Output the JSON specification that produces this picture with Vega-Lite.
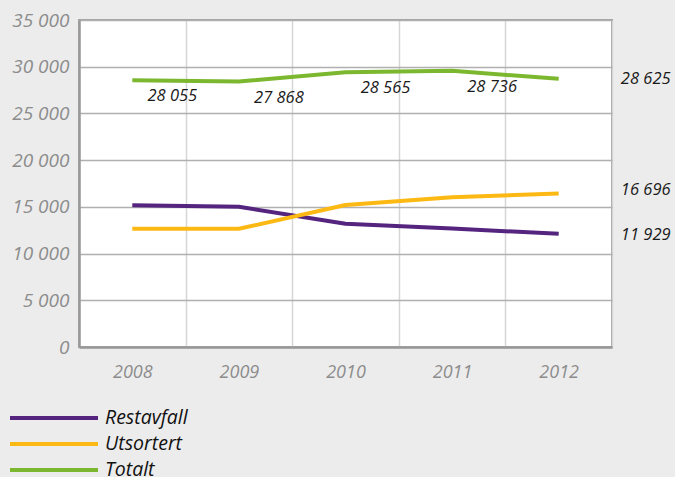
{
  "$schema": "https://vega.github.io/schema/vega-lite/v6.json",
  "width": 533,
  "height": 327,
  "autosize": {"type": "none"},
  "padding": {"left": 79, "top": 20, "right": 63, "bottom": 130},
  "background": "#ececec",
  "config": {
    "font": "Open Sans",
    "view": {"fill": "white", "stroke": "#a3a3a3", "strokeWidth": 2},
    "locale": {
      "number": {"decimal": ",", "thousands": " ", "grouping": [3], "currency": ["", " kr"]}
    }
  },
  "data": {
    "values": [
      {"year": "2008", "series": "Restavfall", "value": 15177, "label": null},
      {"year": "2009", "series": "Restavfall", "value": 15006, "label": null},
      {"year": "2010", "series": "Restavfall", "value": 13186, "label": null},
      {"year": "2011", "series": "Restavfall", "value": 12683, "label": null},
      {"year": "2012", "series": "Restavfall", "value": 12116, "label": 11929},
      {"year": "2008", "series": "Utsortert", "value": 12651, "label": null},
      {"year": "2009", "series": "Utsortert", "value": 12651, "label": null},
      {"year": "2010", "series": "Utsortert", "value": 15198, "label": null},
      {"year": "2011", "series": "Utsortert", "value": 16033, "label": null},
      {"year": "2012", "series": "Utsortert", "value": 16429, "label": 16696},
      {"year": "2008", "series": "Totalt", "value": 28556, "label": 28055},
      {"year": "2009", "series": "Totalt", "value": 28417, "label": 27868},
      {"year": "2010", "series": "Totalt", "value": 29412, "label": 28565},
      {"year": "2011", "series": "Totalt", "value": 29562, "label": 28736},
      {"year": "2012", "series": "Totalt", "value": 28706, "label": 28625}
    ]
  },
  "encoding": {
    "x": {
      "field": "year",
      "type": "ordinal",
      "bandPosition": 0.5,
      "scale": {"type": "band", "paddingInner": 0, "paddingOuter": 0},
      "axis": {
        "title": null,
        "labelAngle": 0,
        "grid": true,
        "tickBand": "extent",
        "gridColor": "#d6d6d6",
        "gridWidth": 1.5,
        "ticks": false,
        "domainColor": "#999999",
        "domainWidth": 2.5,
        "labelFont": "Open Sans",
        "labelFontStyle": "italic",
        "labelFontSize": 18,
        "labelColor": "#8c8c8c",
        "labelPadding": 16
      }
    }
  },
  "layer": [
    {
      "mark": {"type": "line", "strokeWidth": 4, "strokeJoin": "round"},
      "encoding": {
        "y": {
          "field": "value",
          "type": "quantitative",
          "scale": {"domain": [0, 35000], "nice": false},
          "axis": {
            "title": null,
            "values": [0, 5000, 10000, 15000, 20000, 25000, 30000, 35000],
            "format": ",.0f",
            "grid": true,
            "gridColor": "#b0b0b0",
            "gridWidth": 1.5,
            "ticks": false,
            "domainColor": "#999999",
            "domainWidth": 2.5,
            "labelFont": "Open Sans",
            "labelFontStyle": "italic",
            "labelFontSize": 19,
            "labelColor": "#8c8c8c",
            "labelPadding": 10
          }
        },
        "color": {
          "field": "series",
          "type": "nominal",
          "scale": {
            "domain": ["Restavfall", "Utsortert", "Totalt"],
            "range": ["#54247f", "#fdb913", "#7cb82f"]
          },
          "legend": {
            "title": null,
            "orient": "none",
            "legendX": -79,
            "legendY": 385,
            "rowPadding": 3,
            "symbolType": "M-1,0H7",
            "symbolStrokeWidth": 4,
            "symbolSize": 484,
            "symbolOffset": 8,
            "labelFont": "Open Sans",
            "labelFontStyle": "italic",
            "labelFontSize": 19.5,
            "labelColor": "#111111",
            "labelOffset": 71
          }
        }
      }
    },
    {
      "transform": [{"filter": "datum.series === 'Totalt' && datum.year !== '2012'"}],
      "mark": {
        "type": "text",
        "dx": 40,
        "dy": 16,
        "font": "Open Sans",
        "fontStyle": "italic",
        "fontSize": 16.5,
        "color": "#1a1a1a",
        "align": "center",
        "baseline": "middle"
      },
      "encoding": {
        "y": {"field": "value", "type": "quantitative"},
        "text": {"field": "label", "type": "quantitative", "format": ",.0f"}
      }
    },
    {
      "transform": [{"filter": "datum.year === '2012'"}],
      "mark": {
        "type": "text",
        "dx": 87,
        "dy": -1,
        "font": "Open Sans",
        "fontStyle": "italic",
        "fontSize": 16.5,
        "color": "#1a1a1a",
        "align": "center",
        "baseline": "middle"
      },
      "encoding": {
        "y": {"field": "label", "type": "quantitative"},
        "text": {"field": "label", "type": "quantitative", "format": ",.0f"}
      }
    }
  ]
}
